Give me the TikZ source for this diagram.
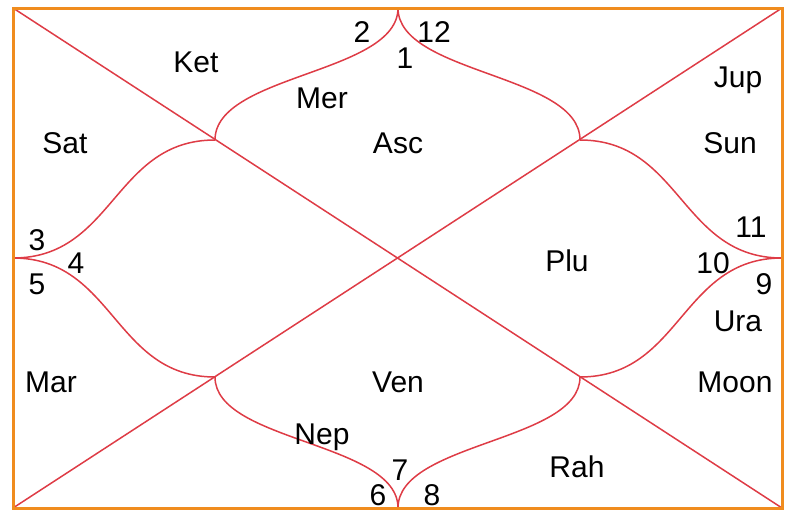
\documentclass[tikz,border=0pt]{standalone}
\usepackage{fontspec}
\setmainfont{Liberation Sans}
\definecolor{frame}{RGB}{240,140,30}
\definecolor{chartred}{RGB}{222,60,70}
\begin{document}
\begin{tikzpicture}[x=1pt,y=-1pt,
  redline/.style={draw=chartred,line width=1.5pt},
  framebox/.style={draw=frame,line width=3pt},
  lbl/.style={inner sep=0pt,font=\fontsize{30}{32}\selectfont,text=black}]
\useasboundingbox (0,0) rectangle (790,512);
\coordinate (TL) at (13,8);
\coordinate (TR) at (782,8);
\coordinate (BL) at (13,508);
\coordinate (BR) at (782,508);
\coordinate (TM) at (398,8);
\coordinate (BM) at (398,508);
\coordinate (LM) at (13,258);
\coordinate (RM) at (782,258);
\coordinate (C) at (398,258);
\coordinate (P1) at (215,140);
\coordinate (P2) at (580,140);
\coordinate (P3) at (215,377);
\coordinate (P4) at (580,377);
% diagonals
\draw[redline] (TL) -- (BR);
\draw[redline] (BL) -- (TR);
% curves
\draw[redline] (TM) .. controls (398,74) and (215,74) .. (P1);
\draw[redline] (TM) .. controls (398,74) and (580,74) .. (P2);
\draw[redline] (BM) .. controls (398,442) and (215,442) .. (P3);
\draw[redline] (BM) .. controls (398,442) and (580,442) .. (P4);
\draw[redline] (LM) .. controls (114,258) and (114,140) .. (P1);
\draw[redline] (LM) .. controls (114,258) and (114,377) .. (P3);
\draw[redline] (RM) .. controls (681,258) and (681,140) .. (P2);
\draw[redline] (RM) .. controls (681,258) and (681,377) .. (P4);
% frame
\draw[framebox] (TL) rectangle (BR);
% labels
\node[lbl] (n2) at (362,32) {2};
\node[lbl] (n12) at (434,32) {12};
\node[lbl] (n1) at (405,58) {1};
\node[lbl] (ket) at (196,62) {Ket};
\node[lbl] (mer) at (322,98) {Mer};
\node[lbl] (asc) at (398,143) {Asc};
\node[lbl] (sat) at (65,143) {Sat};
\node[lbl] (jup) at (738,80) {Jup};
\node[lbl] (sun) at (730,143) {Sun};
\node[lbl] (n3) at (37,240) {3};
\node[lbl] (n4) at (76,263) {4};
\node[lbl] (n5) at (37,284) {5};
\node[lbl] (plu) at (567,261) {Plu};
\node[lbl] (n11) at (751,227) {11};
\node[lbl] (n10) at (713,263) {10};
\node[lbl] (n9) at (764,284) {9};
\node[lbl] (ura) at (738,321) {Ura};
\node[lbl] (mar) at (51,382) {Mar};
\node[lbl] (ven) at (398,382) {Ven};
\node[lbl] (moon) at (735,382) {Moon};
\node[lbl] (nep) at (322,437) {Nep};
\node[lbl] (n7) at (400,470) {7};
\node[lbl] (n6) at (378,495) {6};
\node[lbl] (n8) at (432,495) {8};
\node[lbl] (rah) at (577,467) {Rah};
\end{tikzpicture}
\end{document}
